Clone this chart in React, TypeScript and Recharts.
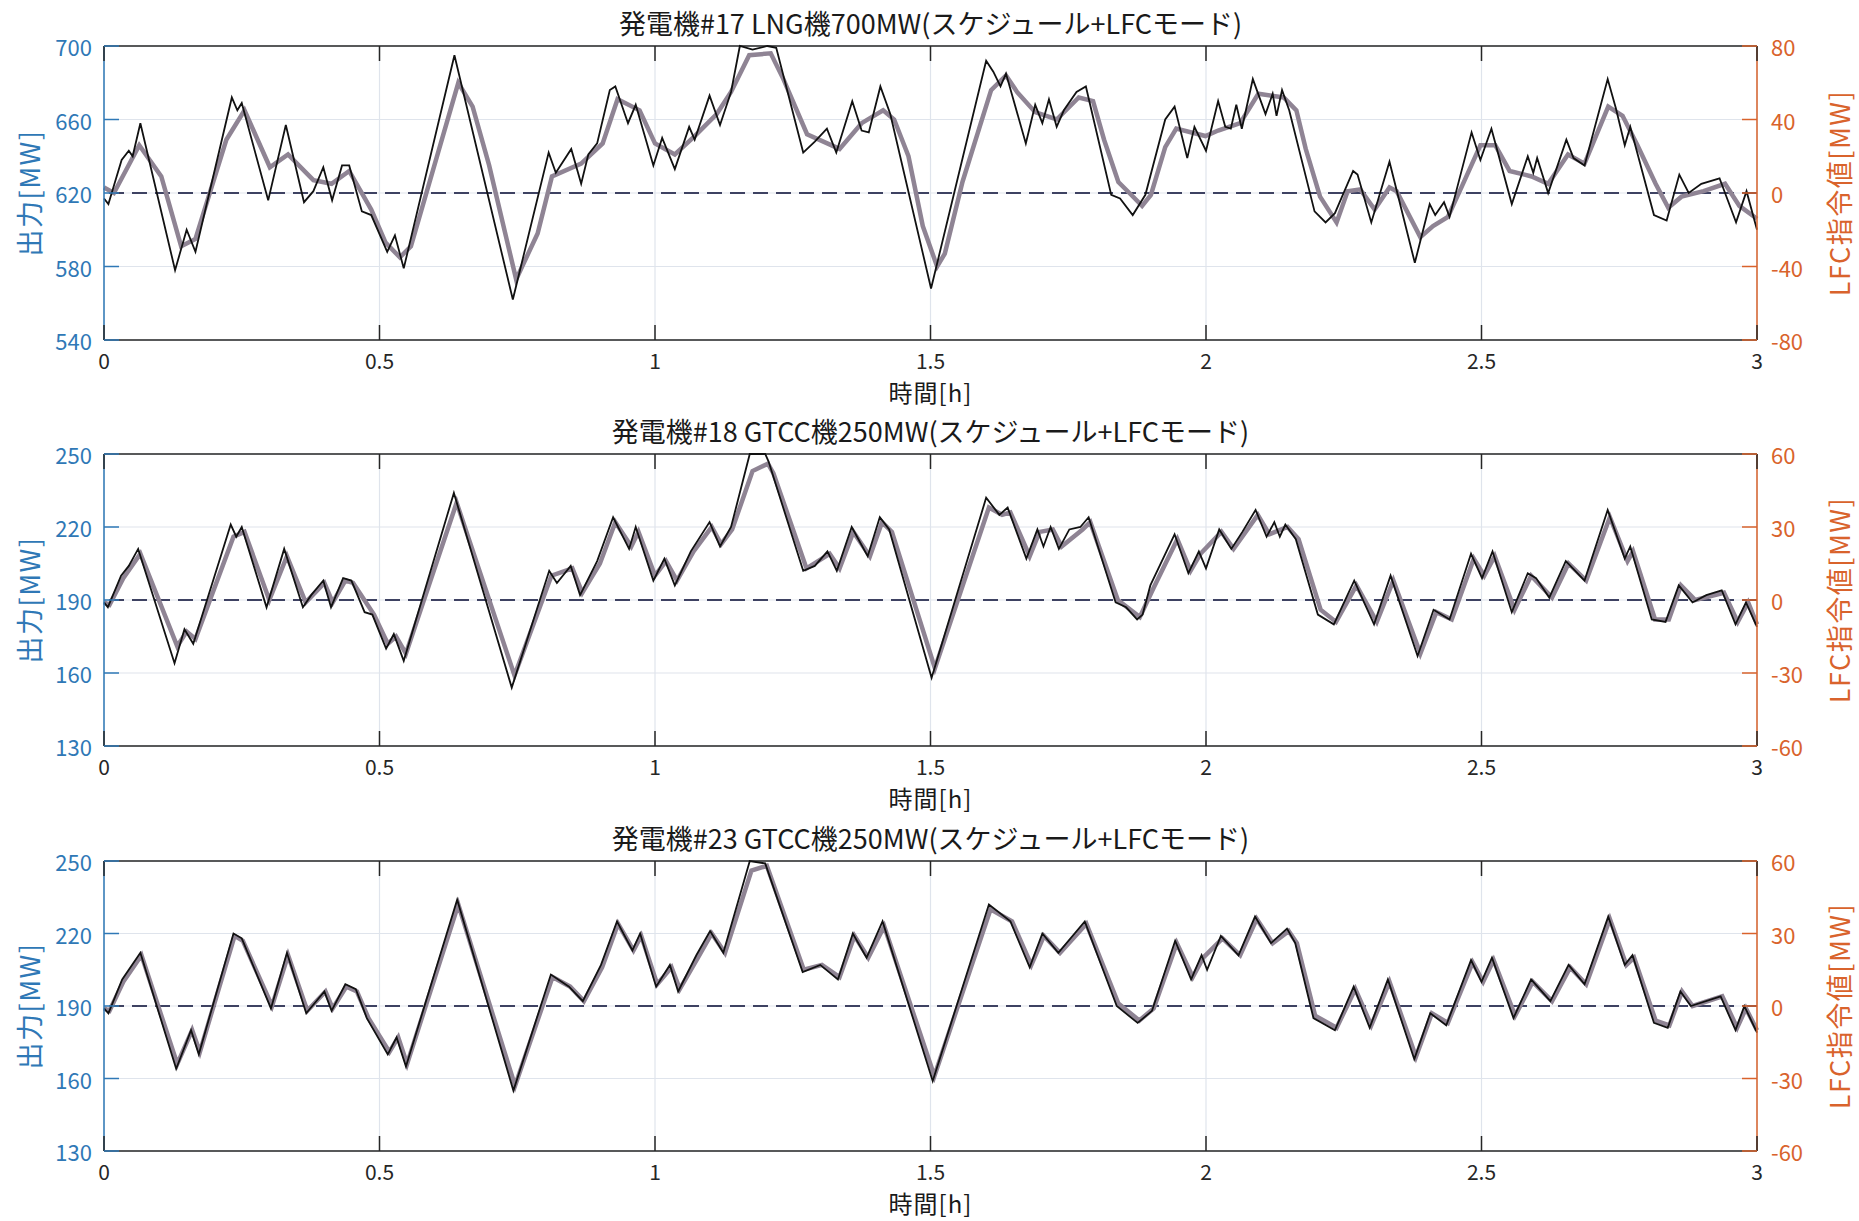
import { LineChart, Line, XAxis, YAxis, CartesianGrid, ReferenceLine } from 'recharts';

// time [h], LFC command [MW] (right axis) / output [MW] (left axis)
const p1Lfc: [number, number][] = [
  [0, -3], [0.008, -6], [0.022, 8], [0.032, 18], [0.045, 23], [0.052, 20], [0.066, 38], [0.129, -42],
  [0.15, -20], [0.166, -32], [0.232, 52], [0.242, 45], [0.25, 49], [0.298, -4], [0.33, 37], [0.363, -5],
  [0.38, 1], [0.398, 14], [0.414, -4], [0.432, 15], [0.445, 15], [0.468, -10], [0.485, -12], [0.514, -32],
  [0.528, -23], [0.544, -41], [0.636, 75], [0.742, -58], [0.807, 22], [0.82, 11], [0.848, 24], [0.866, 5],
  [0.879, 21], [0.895, 27], [0.918, 56], [0.928, 58], [0.951, 38], [0.965, 48], [0.997, 15], [1.013, 30],
  [1.036, 13], [1.062, 36], [1.072, 29], [1.099, 53], [1.118, 37], [1.138, 55], [1.154, 80], [1.177, 78],
  [1.204, 80], [1.22, 79], [1.269, 22], [1.29, 28], [1.312, 35], [1.329, 22], [1.358, 50], [1.375, 34],
  [1.388, 33], [1.409, 58], [1.427, 43], [1.501, -52], [1.601, 72], [1.614, 66], [1.627, 58], [1.637, 65],
  [1.673, 27], [1.69, 48], [1.703, 38], [1.715, 51], [1.729, 36], [1.742, 45], [1.765, 55], [1.782, 58],
  [1.828, -1], [1.844, -3], [1.867, -12], [1.89, -1], [1.926, 40], [1.943, 47], [1.966, 19], [1.979, 36],
  [2.0, 23], [2.022, 50], [2.035, 36], [2.045, 35], [2.055, 48], [2.065, 35], [2.085, 62], [2.108, 43],
  [2.121, 54], [2.128, 42], [2.138, 56], [2.151, 45], [2.197, -10], [2.217, -16], [2.234, -11], [2.267, 12],
  [2.275, 10], [2.3, -16], [2.333, 17], [2.379, -38], [2.406, -6], [2.416, -12], [2.432, -5], [2.442, -13],
  [2.482, 33], [2.498, 18], [2.518, 35], [2.555, -6], [2.584, 20], [2.594, 11], [2.601, 19], [2.621, 0],
  [2.654, 29], [2.667, 19], [2.687, 15], [2.729, 62], [2.744, 46], [2.76, 26], [2.77, 36], [2.813, -12],
  [2.836, -15], [2.859, 10], [2.876, 0], [2.899, 5], [2.932, 8], [2.962, -16], [2.981, 1], [3.0, -20],
];

const p1Out: [number, number][] = [
  [0, 623], [0.018, 620], [0.064, 646], [0.104, 629], [0.14, 591], [0.166, 595], [0.222, 649], [0.255, 665],
  [0.301, 634], [0.334, 641], [0.38, 627], [0.413, 625], [0.445, 632], [0.485, 611], [0.511, 593], [0.537, 585],
  [0.557, 591], [0.643, 680], [0.669, 667], [0.699, 635], [0.748, 573], [0.787, 598], [0.813, 629], [0.866, 636],
  [0.905, 647], [0.932, 671], [0.972, 665], [1.0, 647], [1.036, 641], [1.072, 651], [1.112, 663], [1.138, 675],
  [1.171, 695], [1.21, 696], [1.233, 682], [1.276, 652], [1.335, 644], [1.375, 658], [1.414, 665], [1.434, 660],
  [1.46, 640], [1.486, 602], [1.512, 580], [1.526, 587], [1.558, 626], [1.61, 676], [1.637, 684], [1.657, 675],
  [1.69, 664], [1.729, 660], [1.769, 672], [1.795, 670], [1.815, 649], [1.841, 626], [1.861, 620], [1.884, 613],
  [1.9, 619], [1.926, 645], [1.946, 655], [1.999, 651], [2.022, 654], [2.062, 658], [2.095, 674], [2.141, 672],
  [2.164, 665], [2.181, 644], [2.207, 618], [2.237, 604], [2.257, 621], [2.28, 622], [2.306, 611], [2.333, 623],
  [2.346, 621], [2.389, 596], [2.412, 602], [2.439, 607], [2.465, 624], [2.498, 646], [2.525, 646], [2.551, 632],
  [2.591, 629], [2.621, 625], [2.657, 641], [2.687, 636], [2.73, 667], [2.756, 662], [2.783, 646], [2.816, 625],
  [2.839, 612], [2.863, 618], [2.903, 621], [2.942, 625], [2.968, 613], [3.0, 606],
];

const p2Lfc: [number, number][] = [
  [0, -1], [0.007, -3], [0.031, 10], [0.045, 14], [0.062, 21], [0.128, -26], [0.146, -12], [0.162, -18],
  [0.23, 31], [0.24, 26], [0.25, 30], [0.295, -3], [0.327, 21], [0.361, -3], [0.376, 2], [0.398, 8],
  [0.412, -3], [0.434, 9], [0.449, 8], [0.473, -5], [0.487, -6], [0.512, -20], [0.526, -14], [0.544, -25],
  [0.635, 44], [0.74, -36], [0.808, 12], [0.822, 7], [0.847, 14], [0.864, 2], [0.895, 16], [0.924, 34],
  [0.953, 21], [0.965, 30], [0.997, 8], [1.017, 17], [1.036, 6], [1.065, 20], [1.099, 32], [1.118, 22],
  [1.138, 30], [1.172, 60], [1.2, 60], [1.206, 57], [1.269, 12], [1.29, 14], [1.313, 20], [1.33, 12],
  [1.357, 30], [1.386, 18], [1.408, 34], [1.425, 29], [1.502, -32], [1.601, 42], [1.625, 35], [1.64, 38],
  [1.674, 17], [1.694, 29], [1.705, 22], [1.718, 30], [1.733, 21], [1.752, 29], [1.772, 30], [1.787, 34],
  [1.836, -1], [1.855, -3], [1.875, -8], [1.885, -6], [1.899, 6], [1.943, 27], [1.968, 11], [1.987, 20],
  [2.0, 13], [2.024, 29], [2.046, 21], [2.066, 28], [2.09, 37], [2.11, 26], [2.124, 32], [2.134, 26],
  [2.144, 31], [2.163, 25], [2.203, -6], [2.232, -10], [2.269, 8], [2.305, -10], [2.335, 10], [2.384, -23],
  [2.413, -4], [2.442, -8], [2.481, 19], [2.501, 9], [2.52, 20], [2.555, -5], [2.584, 11], [2.599, 9],
  [2.623, 1], [2.653, 16], [2.687, 8], [2.729, 37], [2.76, 17], [2.77, 22], [2.809, -8], [2.834, -9],
  [2.858, 6], [2.883, -1], [2.908, 2], [2.936, 4], [2.961, -10], [2.98, -1], [3.0, -11],
];

const p2Out: [number, number][] = [
  [0, 189], [0.01, 188], [0.035, 199], [0.066, 209], [0.133, 171], [0.15, 177], [0.166, 174], [0.235, 216],
  [0.255, 218], [0.3, 190], [0.332, 208], [0.366, 189], [0.4, 197], [0.415, 189], [0.438, 198], [0.452, 197],
  [0.49, 184], [0.515, 172], [0.53, 175], [0.548, 168], [0.64, 230], [0.745, 159], [0.812, 200], [0.85, 203],
  [0.868, 193], [0.9, 205], [0.928, 222], [0.957, 212], [0.97, 218], [1.0, 200], [1.02, 206], [1.04, 198],
  [1.07, 210], [1.103, 220], [1.12, 213], [1.14, 219], [1.177, 243], [1.205, 246], [1.215, 242], [1.275, 203],
  [1.317, 209], [1.335, 203], [1.36, 218], [1.39, 208], [1.412, 222], [1.43, 218], [1.508, 162], [1.606, 228],
  [1.63, 225], [1.645, 226], [1.68, 208], [1.698, 218], [1.722, 219], [1.738, 212], [1.776, 219], [1.79, 222],
  [1.84, 190], [1.88, 183], [1.905, 195], [1.948, 215], [1.972, 202], [1.99, 209], [2.028, 218], [2.05, 211],
  [2.094, 225], [2.115, 217], [2.148, 220], [2.168, 215], [2.208, 186], [2.236, 181], [2.273, 196], [2.31, 181],
  [2.34, 198], [2.389, 168], [2.418, 185], [2.446, 182], [2.486, 207], [2.505, 200], [2.524, 208], [2.56, 186],
  [2.59, 200], [2.628, 191], [2.658, 205], [2.69, 198], [2.733, 224], [2.765, 206], [2.775, 210], [2.815, 182],
  [2.84, 182], [2.862, 196], [2.888, 190], [2.94, 193], [2.965, 181], [2.984, 189], [3.0, 180],
];

const p3Lfc: [number, number][] = [
  [0, -1], [0.008, -3], [0.033, 11], [0.066, 22], [0.131, -26], [0.158, -10], [0.172, -20], [0.235, 30],
  [0.25, 28], [0.303, -1], [0.332, 22], [0.367, -3], [0.4, 6], [0.413, -2], [0.438, 9], [0.457, 7],
  [0.477, -5], [0.515, -20], [0.531, -13], [0.548, -25], [0.641, 44], [0.743, -35], [0.811, 13], [0.844, 8],
  [0.869, 2], [0.902, 17], [0.931, 35], [0.959, 23], [0.973, 30], [1.002, 8], [1.027, 17], [1.042, 6],
  [1.075, 21], [1.1, 31], [1.124, 22], [1.172, 60], [1.2, 59], [1.268, 14], [1.3, 17], [1.332, 11],
  [1.359, 30], [1.384, 20], [1.413, 35], [1.504, -31], [1.606, 42], [1.645, 35], [1.68, 16], [1.703, 30],
  [1.732, 22], [1.78, 35], [1.838, 0], [1.876, -7], [1.902, -2], [1.944, 27], [1.973, 11], [1.992, 21],
  [2.002, 15], [2.027, 29], [2.059, 21], [2.089, 37], [2.118, 26], [2.147, 32], [2.162, 26], [2.195, -5],
  [2.234, -10], [2.268, 8], [2.297, -9], [2.33, 11], [2.378, -22], [2.407, -3], [2.436, -8], [2.481, 19],
  [2.5, 10], [2.519, 20], [2.558, -5], [2.59, 11], [2.625, 2], [2.658, 17], [2.687, 9], [2.73, 37],
  [2.76, 17], [2.774, 21], [2.813, -7], [2.838, -9], [2.861, 6], [2.88, 0], [2.934, 4], [2.961, -10],
  [2.977, 0], [3.0, -11],
];

const p3Out: [number, number][] = [
  [0, 189], [0.01, 188], [0.035, 200], [0.068, 211], [0.133, 166], [0.16, 180], [0.174, 171], [0.237, 219],
  [0.252, 217], [0.305, 190], [0.334, 211], [0.369, 188], [0.402, 196], [0.415, 189], [0.44, 198], [0.459, 196],
  [0.48, 185], [0.518, 171], [0.534, 177], [0.55, 166], [0.643, 232], [0.746, 157], [0.814, 202], [0.846, 198],
  [0.871, 192], [0.904, 206], [0.933, 224], [0.961, 213], [0.975, 219], [1.004, 199], [1.03, 206], [1.045, 197],
  [1.078, 210], [1.103, 220], [1.127, 212], [1.175, 246], [1.203, 248], [1.27, 205], [1.303, 207], [1.335, 202],
  [1.362, 219], [1.387, 210], [1.416, 223], [1.507, 161], [1.609, 230], [1.648, 225], [1.683, 207], [1.706, 219],
  [1.735, 212], [1.783, 224], [1.841, 191], [1.879, 184], [1.905, 189], [1.947, 216], [1.976, 202], [1.995, 210],
  [2.03, 218], [2.062, 211], [2.092, 226], [2.121, 216], [2.15, 221], [2.165, 216], [2.198, 186], [2.237, 181],
  [2.271, 197], [2.3, 182], [2.333, 200], [2.381, 169], [2.41, 187], [2.439, 183], [2.484, 208], [2.503, 200],
  [2.522, 209], [2.561, 186], [2.593, 200], [2.628, 192], [2.661, 206], [2.69, 199], [2.733, 226], [2.763, 207],
  [2.777, 210], [2.816, 184], [2.841, 182], [2.864, 196], [2.883, 190], [2.937, 194], [2.964, 181], [2.98, 189],
  [3.0, 180],
];

const xTicks = [0, 0.5, 1, 1.5, 2, 2.5, 3];
const p1LeftTicks = [540, 580, 620, 660, 700];
const p1RightTicks = [-80, -40, 0, 40, 80];
const gtccLeftTicks = [130, 160, 190, 220, 250];
const gtccRightTicks = [-60, -30, 0, 30, 60];

const W = 1859;
const PLOT_LEFT = 104;
const PLOT_RIGHT = 1757;
const TOP_PAD = 40;
const X_AXIS_H = 70;
const FONT = "'Noto Sans CJK JP', 'Noto Sans', sans-serif";
const BLUE = '#2f78b6';
const ORANGE = '#d9632c';
const AXIS = '#262626';
const GRAY = '#8f8494';
const TICK_LEN = 15;

const toPoints = (arr: [number, number][]) => arr.map(([t, v]) => ({ t, v }));

const panels = [
  {
    top: 46, h: 294,
    title: '発電機#17 LNG機700MW(スケジュール+LFCモード)',
    leftTicks: p1LeftTicks, rightTicks: p1RightTicks, out: p1Out, lfc: p1Lfc,
  },
  {
    top: 454, h: 292,
    title: '発電機#18 GTCC機250MW(スケジュール+LFCモード)',
    leftTicks: gtccLeftTicks, rightTicks: gtccRightTicks, out: p2Out, lfc: p2Lfc,
  },
  {
    top: 861, h: 290,
    title: '発電機#23 GTCC機250MW(スケジュール+LFCモード)',
    leftTicks: gtccLeftTicks, rightTicks: gtccRightTicks, out: p3Out, lfc: p3Lfc,
  },
];

const labelStyle = {
  position: 'absolute' as const,
  whiteSpace: 'nowrap' as const,
  fontFamily: FONT,
  lineHeight: 1,
};

function Panel({ p }: { p: (typeof panels)[number] }) {
  const bottom = TOP_PAD + p.h;
  const lMin = p.leftTicks[0];
  const lMax = p.leftTicks[p.leftTicks.length - 1];
  const rMin = p.rightTicks[0];
  const rMax = p.rightTicks[p.rightTicks.length - 1];

  const LeftTick = (props: any) => (
    <g>
      <line x1={PLOT_LEFT} x2={PLOT_LEFT + TICK_LEN} y1={props.y} y2={props.y} stroke={BLUE} strokeWidth={1.5} />
      <text x={PLOT_LEFT - 12} y={props.y} textAnchor="end" dominantBaseline="central" fill={BLUE} fontSize={22} fontFamily={FONT}>
        {props.payload.value}
      </text>
    </g>
  );
  const RightTick = (props: any) => (
    <g>
      <line x1={PLOT_RIGHT - TICK_LEN} x2={PLOT_RIGHT} y1={props.y} y2={props.y} stroke={ORANGE} strokeWidth={1.5} />
      <text x={PLOT_RIGHT + 14} y={props.y} textAnchor="start" dominantBaseline="central" fill={ORANGE} fontSize={22} fontFamily={FONT}>
        {props.payload.value}
      </text>
    </g>
  );
  const BottomTick = (props: any) => (
    <g>
      <line x1={props.x} x2={props.x} y1={bottom} y2={bottom - TICK_LEN} stroke={AXIS} strokeWidth={1.5} />
      <line x1={props.x} x2={props.x} y1={TOP_PAD} y2={TOP_PAD + TICK_LEN} stroke={AXIS} strokeWidth={1.5} />
      <text x={props.x} y={bottom + 20} textAnchor="middle" dominantBaseline="central" fill={AXIS} fontSize={21} fontFamily={FONT}>
        {props.payload.value}
      </text>
    </g>
  );

  return (
    <div style={{ position: 'absolute', left: 0, top: p.top - TOP_PAD, width: W, height: TOP_PAD + p.h + X_AXIS_H }}>
      <LineChart width={W} height={TOP_PAD + p.h + X_AXIS_H} margin={{ top: TOP_PAD, right: 0, bottom: 0, left: 0 }}>
        <CartesianGrid yAxisId="left" stroke="#dfe4ec" strokeWidth={1.2} />
        <XAxis
          dataKey="t"
          type="number"
          domain={[0, 3]}
          ticks={xTicks}
          height={X_AXIS_H}
          tickLine={false}
          axisLine={{ stroke: AXIS, strokeWidth: 1.5 }}
          tick={<BottomTick />}
          allowDuplicatedCategory={false}
        />
        <YAxis
          yAxisId="left"
          orientation="left"
          width={PLOT_LEFT}
          domain={[lMin, lMax]}
          ticks={p.leftTicks}
          tickLine={false}
          axisLine={{ stroke: BLUE, strokeWidth: 1.5 }}
          tick={<LeftTick />}
        />
        <YAxis
          yAxisId="right"
          orientation="right"
          width={W - PLOT_RIGHT}
          domain={[rMin, rMax]}
          ticks={p.rightTicks}
          tickLine={false}
          axisLine={{ stroke: ORANGE, strokeWidth: 1.5 }}
          tick={<RightTick />}
        />
        <ReferenceLine yAxisId="left" y={lMax} stroke={AXIS} strokeWidth={1.5} />
        <ReferenceLine yAxisId="right" y={0} stroke="#3e4262" strokeWidth={2} strokeDasharray="15 8" />
        <Line
          yAxisId="left"
          data={toPoints(p.out)}
          dataKey="v"
          type="linear"
          stroke={GRAY}
          strokeWidth={4.5}
          dot={false}
          isAnimationActive={false}
        />
        <Line
          yAxisId="right"
          data={toPoints(p.lfc)}
          dataKey="v"
          type="linear"
          stroke="#111111"
          strokeWidth={1.8}
          dot={false}
          isAnimationActive={false}
        />
      </LineChart>
      <div
        style={{
          ...labelStyle, left: (PLOT_LEFT + PLOT_RIGHT) / 2, top: TOP_PAD - 24,
          transform: 'translate(-50%, -50%)', fontSize: 27, color: '#1a1a1a',
        }}
      >
        {p.title}
      </div>
      <div
        style={{
          ...labelStyle, left: (PLOT_LEFT + PLOT_RIGHT) / 2, top: bottom + 52,
          transform: 'translate(-50%, -50%)', fontSize: 24, color: '#1a1a1a', letterSpacing: 1,
        }}
      >
        時間[h]
      </div>
      <div
        style={{
          ...labelStyle, left: 28, top: TOP_PAD + p.h / 2,
          transform: 'translate(-50%, -50%) rotate(-90deg)', fontSize: 27, color: BLUE, letterSpacing: 1.5,
        }}
      >
        出力[MW]
      </div>
      <div
        style={{
          ...labelStyle, left: 1838, top: TOP_PAD + p.h / 2,
          transform: 'translate(-50%, -50%) rotate(-90deg)', fontSize: 27, color: ORANGE, letterSpacing: 1.5,
        }}
      >
        LFC指令値[MW]
      </div>
    </div>
  );
}

export default function App() {
  return (
    <div style={{ position: 'absolute', left: 0, top: 0, width: W, height: 1221, background: '#fff' }}>
      {panels.map((p) => (
        <Panel key={p.title} p={p} />
      ))}
    </div>
  );
}
